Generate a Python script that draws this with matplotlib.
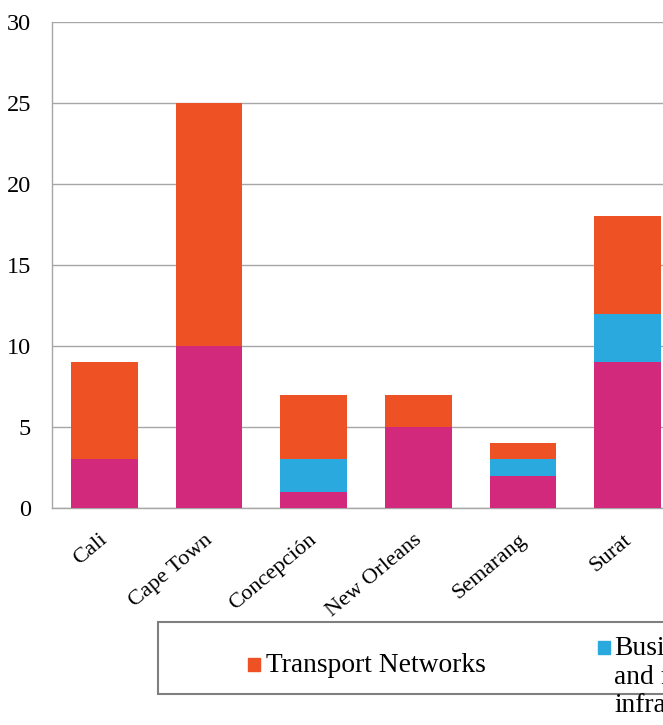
import numpy as np
import matplotlib.pyplot as plt
import matplotlib.transforms as mtransforms
from matplotlib.patches import Rectangle

plt.rcParams['font.family'] = ['Liberation Serif', 'DejaVu Serif']

# data
cities = ['Cali', 'Cape Town', 'Concepción', 'New Orleans', 'Semarang', 'Surat']
base_sector = [3, 10, 1, 5, 2, 9]          # magenta (legend entry cut off)
business = [0, 0, 2, 0, 1, 3]               # blue
transport = [6, 15, 4, 2, 1, 6]             # orange
series_labels = ['Transport Networks', 'Business\nand financial\ninfrastructure']

c_mag = '#D2297C'
c_blue = '#2AA9DE'
c_orange = '#EE5224'

W, H = 663, 725
fig = plt.figure(figsize=(W / 100, H / 100), dpi=100)
# axes runs past the right edge, like the cropped original
ax = fig.add_axes([52 / W, (H - 508) / H, 628 / W, 486 / H])

x = np.arange(len(cities))
bw = 0.64
ax.bar(x, base_sector, bw, color=c_mag, zorder=3)
ax.bar(x, business, bw, bottom=base_sector, color=c_blue, zorder=3)
bottom2 = np.array(base_sector) + np.array(business)
ax.bar(x, transport, bw, bottom=bottom2, color=c_orange, zorder=3)

ax.set_xlim(-0.5, len(cities) - 0.5)
ax.set_ylim(0, 30)
ax.set_yticks(range(0, 31, 5))
ax.tick_params(axis='y', length=0, pad=15, labelsize=17.5)
ax.tick_params(axis='x', length=0, pad=16, labelsize=16.2)
ax.set_xticks(x)
ax.set_xticklabels(cities, rotation=40, ha='right', rotation_mode='anchor')
shift = mtransforms.ScaledTranslation(-5 / 100, 0, fig.dpi_scale_trans)
for lab in ax.get_xticklabels():
    lab.set_transform(lab.get_transform() + shift)
ax.grid(axis='y', color='#A6A6A6', linewidth=1, zorder=0)
for s in ['top', 'right']:
    ax.spines[s].set_visible(False)
for s in ['left', 'bottom']:
    ax.spines[s].set_color('#A6A6A6')
    ax.spines[s].set_linewidth(1)


def fx(px):
    return px / W


def fy(py):
    return (H - py) / H


# legend box (cut off on the right), drawn over the tick labels
fig.add_artist(Rectangle((fx(158), fy(694)), 1.0, fy(622) - fy(694),
                         transform=fig.transFigure, facecolor='white',
                         edgecolor='#7F7F7F', linewidth=1.5, zorder=2))
fig.add_artist(Rectangle((fx(248), fy(671)), 12 / W, 13 / H,
                         transform=fig.transFigure, color=c_orange, zorder=3))
fig.text(fx(266), fy(665), series_labels[0], fontsize=19.8, va='center',
         ha='left', zorder=3)
fig.add_artist(Rectangle((fx(598), fy(654)), 12 / W, 13 / H,
                         transform=fig.transFigure, color=c_blue, zorder=3))
fig.text(fx(614), fy(677), series_labels[1], fontsize=19.8, va='center',
         ha='left', linespacing=1.2, zorder=3)

fig.savefig('out.png', dpi=100)
